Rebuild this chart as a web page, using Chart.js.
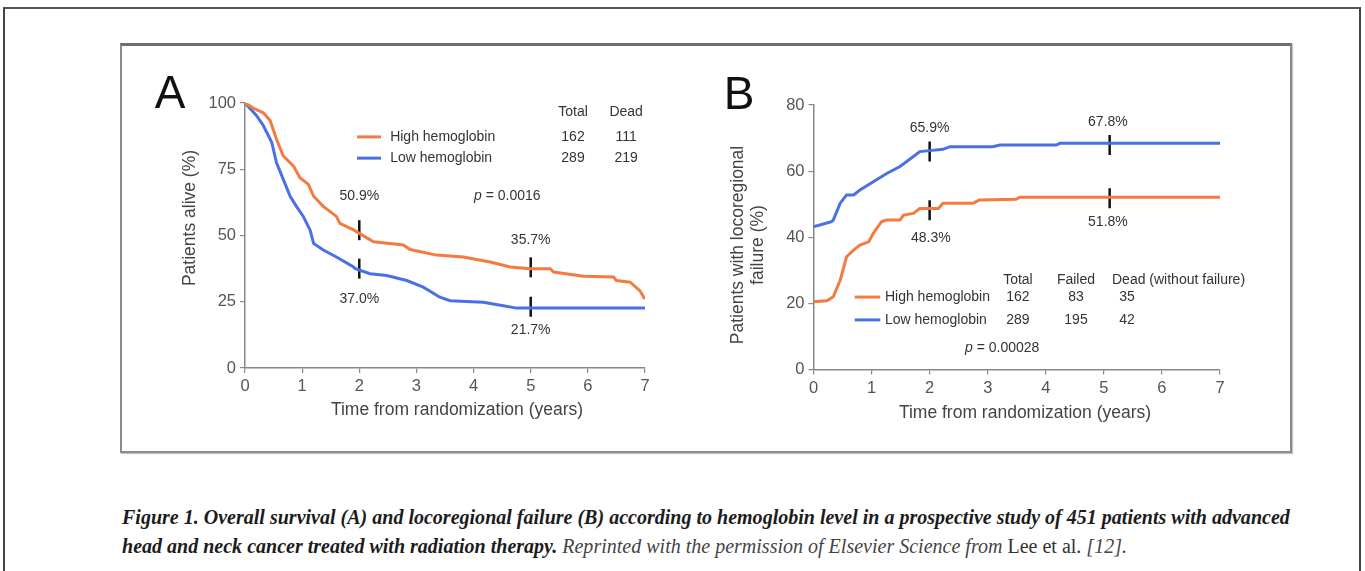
<!DOCTYPE html>
<html>
<head>
<meta charset="utf-8">
<script src="https://cdn.jsdelivr.net/npm/chart.js@4.4.1/dist/chart.umd.min.js"></script>
<style>
html, body { margin: 0; padding: 0; background: #fff; }
body { width: 1365px; height: 571px; position: relative; overflow: hidden; font-family: "Liberation Sans", Arial, sans-serif; }
#frame { position: absolute; left: 3px; top: 7px; width: 1354px; height: 570px; border-top: 2px solid #555; border-left: 2px solid #444; border-right: 2px solid #444; }
#box { position: absolute; left: 120px; top: 43px; width: 1168px; height: 405px; border: 2px solid #8c8c8c; border-top: 3px solid #6f6f6f; box-shadow: 1px 1px 1px #c4c4c4; }
.panel { position: absolute; top: 50px; }
.cap { position: absolute; left: 122px; white-space: nowrap; font-family: "Liberation Serif", "Times New Roman", serif; font-size: 20.5px; line-height: 24px; color: #1c1c1c; transform-origin: 0 50%; }
.cap b { font-weight: bold; font-style: italic; }
.cap i { color: #444; }
.cap span.up { color: #333; }
</style>
</head>
<body>
<div id="frame"></div>
<div id="box"></div>
<div class="panel" style="left:130px"><canvas id="chartA" width="560" height="400"></canvas></div>
<div class="panel" style="left:690px"><canvas id="chartB" width="580" height="400"></canvas></div>
<div class="cap" id="cap1" style="top:505px"><b>Figure 1. Overall survival (A) and locoregional failure (B) according to hemoglobin level in a prospective study of 451 patients with advanced</b></div>
<div class="cap" id="cap2" style="top:534px"><b>head and neck cancer treated with radiation therapy.</b> <i>Reprinted with the permission of Elsevier Science from</i> <span class="up">Lee et al.</span> <i>[12].</i></div>

<script>
// ---- data ----
const groups = ['High hemoglobin', 'Low hemoglobin'];

// A: overall survival (%)
const timeA_high = [0, 0.15, 0.32, 0.44, 0.55, 0.67, 0.85, 0.96, 1.11, 1.2, 1.37, 1.6, 1.66, 1.9, 2.0, 2.25, 2.77, 2.89, 3.35, 3.82, 4.29, 4.64, 4.99, 5.34, 5.4, 5.92, 6.45, 6.5, 6.74, 6.91, 7.0];
const survA_high = [100, 98, 96.3, 93.4, 86.4, 80, 76.2, 71.8, 69.3, 64.8, 61, 57.2, 54.6, 52.1, 50.8, 47.6, 46.4, 44.7, 42.6, 41.9, 40, 38.1, 37.5, 37.5, 36.2, 34.6, 34.3, 33, 32.4, 29.2, 26];
const timeA_low = [0, 0.2, 0.32, 0.44, 0.47, 0.55, 0.67, 0.79, 0.9, 1.02, 1.14, 1.2, 1.37, 1.6, 1.9, 1.93, 2.19, 2.48, 2.83, 3.12, 3.41, 3.59, 4.17, 4.52, 4.75, 7.0];
const survA_low = [100, 95.3, 91.5, 86.4, 85, 77.5, 71.2, 64.8, 61, 57.2, 52, 47, 44.5, 41.9, 38.1, 37.5, 35.6, 34.9, 33, 30.5, 26.7, 25.4, 24.8, 23.5, 22.6, 22.6];
const censorA_x = [2, 2, 5, 5];
const censorA_y = [52, 37.5, 38, 23.1];
const labelsA = ['50.9%', '37.0%', '35.7%', '21.7%'];
const totalA = [162, 289];
const deadA = [111, 219];
const pA = '0.0016';

// B: locoregional failure (%)
const timeB_high = [0, 0.23, 0.34, 0.46, 0.57, 0.69, 0.8, 0.95, 1.03, 1.17, 1.26, 1.49, 1.55, 1.72, 1.83, 2.15, 2.23, 2.75, 2.86, 3.49, 3.55, 7];
const failB_high = [20.5, 20.8, 22, 27, 34.1, 36.1, 37.6, 38.6, 41.2, 44.7, 45.2, 45.2, 46.7, 47.2, 48.7, 48.7, 50.3, 50.3, 51.3, 51.5, 52.1, 52.1];
const timeB_low = [0, 0.11, 0.31, 0.34, 0.46, 0.57, 0.69, 0.8, 1.03, 1.26, 1.49, 1.72, 1.83, 2.0, 2.23, 2.35, 3.09, 3.21, 4.18, 4.24, 7];
const failB_low = [43.2, 43.7, 44.7, 45.2, 50.3, 52.8, 52.8, 54.3, 56.8, 59.3, 61.4, 64.4, 65.9, 66.2, 66.6, 67.4, 67.4, 67.9, 67.9, 68.4, 68.4];
const censorB_x = [2, 2, 5.1, 5.1];
const censorB_y = [65.9, 48.2, 67.9, 51.8];
const labelsB = ['65.9%', '48.3%', '67.8%', '51.8%'];
const totalB = [162, 289];
const failedB = [83, 195];
const deadNoFailB = [35, 42];
const pB = '0.00028';

const xTicks = [0, 1, 2, 3, 4, 5, 6, 7];

const ORANGE = '#f57a40';
const BLUE = '#4a70e6';
const FONT = '"Liberation Sans", Arial, sans-serif';

function pts(xs, ys) {
    return xs.map((x, i) => ({ x: x, y: ys[i] }));
}

// draws the panel letter, axis titles, legend table, percentages and p value
const panelText = {
    id: 'panelText',
    afterDatasetsDraw(chart, args, o) {
        const ctx = chart.ctx;
        const a = chart.chartArea;
        const X = v => chart.scales.x.getPixelForValue(v);
        const Y = v => chart.scales.y.getPixelForValue(v);
        ctx.save();
        ctx.textAlign = 'center';
        ctx.textBaseline = 'middle';

        // big letter
        ctx.fillStyle = '#111';
        ctx.font = '46px ' + FONT;
        ctx.fillText(o.letter, a.left + o.letterPos[0], a.top + o.letterPos[1]);

        // x title
        ctx.fillStyle = '#444';
        ctx.font = '17.5px ' + FONT;
        ctx.fillText('Time from randomization (years)', a.left + o.xTitlePos[0], a.bottom + o.xTitlePos[1]);

        // y title (rotated)
        ctx.save();
        ctx.translate(a.left + o.yTitlePos[0], a.top + o.yTitlePos[1]);
        ctx.rotate(-Math.PI / 2);
        ctx.font = '17.5px ' + FONT;
        o.yTitle.forEach((t, i) => ctx.fillText(t, 0, i * 20));
        ctx.restore();

        // percentages
        ctx.fillStyle = '#333';
        ctx.font = '14px ' + FONT;
        o.labels.forEach(l => ctx.fillText(l.text, X(l.x), Y(l.y)));

        // legend table
        const lg = o.legend;
        const colors = [ORANGE, BLUE];
        lg.rowY.forEach((ry, r) => {
            ctx.strokeStyle = colors[r];
            ctx.lineWidth = 3;
            ctx.beginPath();
            ctx.moveTo(X(lg.lineX[0]), Y(ry));
            ctx.lineTo(X(lg.lineX[1]), Y(ry));
            ctx.stroke();
            ctx.textAlign = 'left';
            ctx.fillText(groups[r], X(lg.textX), Y(ry));
        });
        lg.cols.forEach(c => {
            ctx.textAlign = c.align || 'center';
            ctx.fillText(c.head, X(c.headX !== undefined ? c.headX : c.x), Y(lg.headY));
            ctx.textAlign = 'center';
            c.values.forEach((v, r) => ctx.fillText(String(v), X(c.x), Y(lg.rowY[r])));
        });

        // p value, p in italics
        const rest = ' = ' + o.p.text;
        ctx.font = 'italic 14px ' + FONT;
        const wp = ctx.measureText('p').width;
        ctx.font = '14px ' + FONT;
        const wr = ctx.measureText(rest).width;
        const x0 = X(o.p.x) - (wp + wr) / 2;
        ctx.textAlign = 'left';
        ctx.font = 'italic 14px ' + FONT;
        ctx.fillText('p', x0, Y(o.p.y));
        ctx.font = '14px ' + FONT;
        ctx.fillText(rest, x0 + wp, Y(o.p.y));

        ctx.restore();
    }
};

function makeChart(id, cfg) {
    const axisStyle = {
        grid: { display: true, drawOnChartArea: false, tickLength: 5, color: '#888', lineWidth: 1.2 },
        border: { display: true, color: '#888', width: 1.5 },
        ticks: { color: '#555', padding: 4, font: { family: FONT, size: 16.5 } }
    };
    return new Chart(document.getElementById(id).getContext('2d'), {
        type: 'line',
        data: {
            datasets: [
                { data: cfg.high, borderColor: ORANGE, borderWidth: 3, pointRadius: 0, fill: false, tension: 0 },
                { data: cfg.low, borderColor: BLUE, borderWidth: 3, pointRadius: 0, fill: false, tension: 0 },
                { data: cfg.censor, type: 'scatter', showLine: false, pointStyle: 'line', rotation: 90,
                  pointRadius: 10, pointHoverRadius: 10, borderColor: '#111', borderWidth: 2.5 }
            ]
        },
        options: {
            responsive: false,
            animation: false,
            events: [],
            layout: { padding: cfg.padding },
            plugins: { legend: { display: false }, tooltip: { enabled: false }, panelText: cfg.text },
            scales: {
                x: Object.assign({}, axisStyle, {
                    type: 'linear', min: 0, max: 7,
                    afterBuildTicks: s => { s.ticks = xTicks.map(v => ({ value: v })); },
                    afterFit: s => { s.height = cfg.xHeight; }
                }),
                y: Object.assign({}, axisStyle, {
                    min: 0, max: cfg.yMax,
                    ticks: Object.assign({}, axisStyle.ticks, { stepSize: cfg.yStep }),
                    afterFit: s => { s.width = cfg.yWidth; }
                })
            }
        },
        plugins: [panelText]
    });
}

makeChart('chartA', {
    high: pts(timeA_high, survA_high),
    low: pts(timeA_low, survA_low),
    censor: pts(censorA_x, censorA_y),
    yMax: 100, yStep: 25,
    padding: { top: 53, right: 45, left: 0, bottom: 0 },
    yWidth: 115, xHeight: 82,
    text: {
        letter: 'A', letterPos: [-75, -8],
        xTitlePos: [212, 42],
        yTitle: ['Patients alive (%)'], yTitlePos: [-55, 115],
        labels: [
            { x: 2, y: 65, text: labelsA[0] },
            { x: 2, y: 26, text: labelsA[1] },
            { x: 5, y: 48.3, text: labelsA[2] },
            { x: 5, y: 14.3, text: labelsA[3] }
        ],
        legend: {
            lineX: [1.96, 2.38], rowY: [87.2, 79.2], textX: 2.54, headY: 96.6,
            cols: [
                { x: 5.74, head: 'Total', values: totalA },
                { x: 6.67, head: 'Dead', values: deadA }
            ]
        },
        p: { x: 4.59, y: 64.9, text: pA }
    }
});

makeChart('chartB', {
    high: pts(timeB_high, failB_high),
    low: pts(timeB_low, failB_low),
    censor: pts(censorB_x, censorB_y),
    yMax: 80, yStep: 20,
    padding: { top: 55, right: 50, left: 0, bottom: 0 },
    yWidth: 123.5, xHeight: 80.5,
    text: {
        letter: 'B', letterPos: [-74.5, -9],
        xTitlePos: [211.5, 43.5],
        yTitle: ['Patients with locoregional', 'failure (%)'], yTitlePos: [-75.5, 140],
        labels: [
            { x: 2.0, y: 73.1, text: labelsB[0] },
            { x: 2.02, y: 39.8, text: labelsB[1] },
            { x: 5.07, y: 74.9, text: labelsB[2] },
            { x: 5.07, y: 44.6, text: labelsB[3] }
        ],
        legend: {
            lineX: [0.71, 1.15], rowY: [21.9, 15.0], textX: 1.23, headY: 27.1,
            cols: [
                { x: 3.52, head: 'Total', values: totalB },
                { x: 4.52, head: 'Failed', values: failedB },
                { x: 5.4, headX: 5.14, head: 'Dead (without failure)', values: deadNoFailB, align: 'left' }
            ]
        },
        p: { x: 3.25, y: 6.5, text: pB }
    }
});

// squeeze the caption to the width of the original line
const c1 = document.getElementById('cap1');
const c2 = document.getElementById('cap2');
const k = 1168 / c1.scrollWidth;
c1.style.transform = 'scaleX(' + k + ')';
c2.style.transform = 'scaleX(' + k + ')';
</script>
</body>
</html>
